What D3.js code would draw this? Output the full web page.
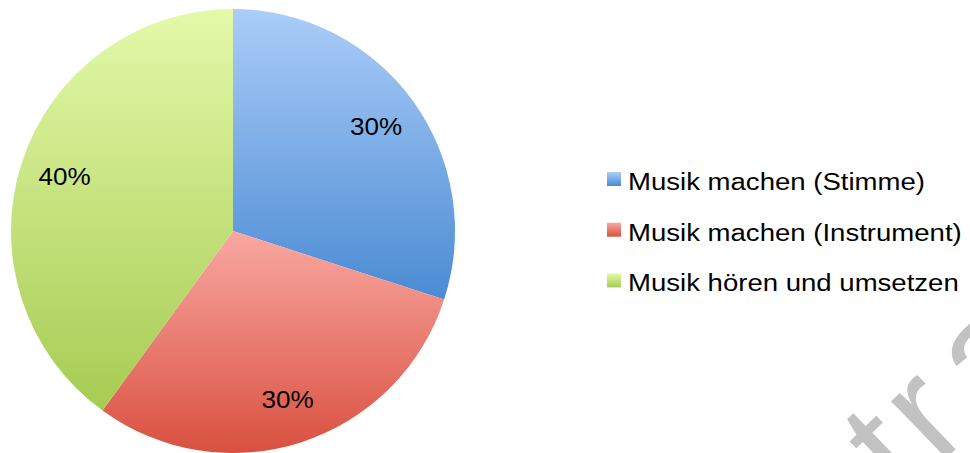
<!DOCTYPE html>
<html>
<head>
<meta charset="utf-8">
<script src="https://cdn.jsdelivr.net/npm/d3@7"></script>
<style>
  html, body { margin: 0; padding: 0; background: #ffffff; }
  svg { display: block; }
</style>
</head>
<body>
<svg id="chart" width="970" height="453"></svg>
<script>
// Anteile der Musik-Aktivitäten
const categories = ["Musik machen (Stimme)", "Musik machen (Instrument)", "Musik hören und umsetzen"];
const values = [30, 30, 40];
const percentLabels = ["30%", "30%", "40%"];
// Farbverläufe je Segment: [oben, unten]
const gradientTops = ["#abcdf8", "#f9a8a2", "#e4f9aa"];
const gradientBottoms = ["#4a8bd3", "#d9503f", "#a7cb52"];

const W = 970, H = 453;
const cx = 233, cy = 231, R = 222;
const labelR = 177;
const fontFamily = "'Liberation Sans', Arial, Helvetica, sans-serif";

const svg = d3.select("#chart");
const defs = svg.append("defs");

// vertikale Verläufe für Segmente und Legende
categories.forEach((c, i) => {
  const g = defs.append("linearGradient")
    .attr("id", "grad" + i)
    .attr("x1", 0).attr("y1", 0).attr("x2", 0).attr("y2", 1);
  g.append("stop").attr("offset", "0%").attr("stop-color", gradientTops[i]);
  g.append("stop").attr("offset", "100%").attr("stop-color", gradientBottoms[i]);
});

const data = categories.map((c, i) => ({ name: c, value: values[i], label: percentLabels[i], i }));

const pie = d3.pie().sort(null).value(d => d.value).startAngle(0).endAngle(2 * Math.PI);
const arc = d3.arc().innerRadius(0).outerRadius(R);
const labelArc = d3.arc().innerRadius(labelR).outerRadius(labelR);

const arcs = pie(data);

const pieG = svg.append("g").attr("transform", `translate(${cx},${cy})`);

pieG.selectAll("path.slice")
  .data(arcs)
  .join("path")
  .attr("class", "slice")
  .attr("d", arc)
  .attr("fill", d => `url(#grad${d.data.i})`);

// Prozentwerte im Kreis
const labelSize = 23.5, labelStretch = 1.11;
pieG.selectAll("text.pct")
  .data(arcs)
  .join("text")
  .attr("class", "pct")
  .attr("transform", d => {
    const [x, y] = labelArc.centroid(d);
    return `translate(${x},${y + labelSize * 0.358}) scale(${labelStretch},1)`;
  })
  .attr("text-anchor", "middle")
  .attr("font-family", fontFamily)
  .attr("font-size", labelSize)
  .attr("fill", "#000")
  .text(d => d.data.label);

// Legende
const legendX = 607, legendY0 = 181, legendStep = 50.7;
const legendSize = 24.5, legendStretch = 1.125;
const legend = svg.append("g");
const rows = legend.selectAll("g.row")
  .data(data)
  .join("g")
  .attr("class", "row")
  .attr("transform", (d, i) => `translate(${legendX},${legendY0 + i * legendStep})`);

rows.append("rect")
  .attr("x", 0).attr("y", -9)
  .attr("width", 14).attr("height", 14)
  .attr("fill", d => `url(#grad${d.i})`);

rows.append("text")
  .attr("transform", `translate(21,${legendSize * 0.36}) scale(${legendStretch},1)`)
  .attr("font-family", fontFamily)
  .attr("font-size", legendSize)
  .attr("fill", "#000")
  .text(d => d.name);

// Wasserzeichen
const wm = svg.append("text")
  .attr("transform", "translate(903,500) rotate(-44)")
  .attr("font-family", fontFamily)
  .attr("font-size", 150)
  .attr("fill", "#c2c2c2");
wm.append("tspan").text("t");
wm.append("tspan").attr("dx", 8).text("r");
wm.append("tspan").attr("dx", 22).text("a");
</script>
</body>
</html>
